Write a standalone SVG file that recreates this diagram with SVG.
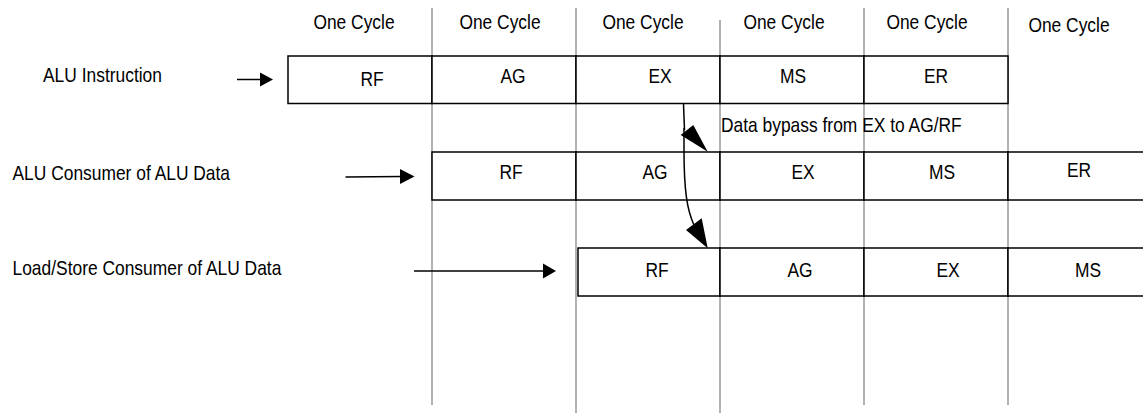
<svg xmlns="http://www.w3.org/2000/svg" width="1143" height="413" viewBox="0 0 1143 413">
<style>
.t{font-family:"Liberation Sans",Arial,sans-serif;font-size:17.4px;fill:#000}
.c{text-anchor:middle}
.box{fill:#fff;stroke:#000;stroke-width:1.5}
.grid{stroke:#999;stroke-width:1.5;fill:none}
.ln{stroke:#000;stroke-width:1.5;fill:none}
.hd{fill:#000;stroke:none}
</style>
<rect width="1143" height="413" fill="#fff"/>
<g id="gridlines">
<line class="grid" x1="432" y1="8" x2="432" y2="405"/>
<line class="grid" x1="576" y1="8" x2="576" y2="413"/>
<line class="grid" x1="720" y1="20" x2="720" y2="413"/>
<line class="grid" x1="864" y1="8" x2="864" y2="405"/>
<line class="grid" x1="1008" y1="8" x2="1008" y2="405"/>
</g>
<g id="headers">
<text class="t c" transform="translate(354,29) scale(1,1.12)">One Cycle</text>
<text class="t c" transform="translate(500,29) scale(1,1.12)">One Cycle</text>
<text class="t c" transform="translate(643,29) scale(1,1.12)">One Cycle</text>
<text class="t c" transform="translate(784,29) scale(1,1.12)">One Cycle</text>
<text class="t c" transform="translate(927,29) scale(1,1.12)">One Cycle</text>
<text class="t c" transform="translate(1069,32) scale(1,1.12)">One Cycle</text>
</g>
<g id="row-labels">
<text class="t" transform="translate(43,82) scale(1,1.12)">ALU Instruction</text>
<text class="t" transform="translate(12.5,180) scale(1,1.12)">ALU Consumer of ALU Data</text>
<text class="t" transform="translate(12.5,275) scale(1,1.12)">Load/Store Consumer of ALU Data</text>
</g>
<g id="row1">
<rect class="box" x="288" y="56" width="144" height="47.5"/>
<rect class="box" x="432" y="56" width="144" height="47.5"/>
<rect class="box" x="576" y="56" width="144" height="47.5"/>
<rect class="box" x="720" y="56" width="144" height="47.5"/>
<rect class="box" x="864" y="56" width="144" height="47.5"/>
<text class="t c" transform="translate(372,86) scale(1,1.12)">RF</text>
<text class="t c" transform="translate(513,83) scale(1,1.12)">AG</text>
<text class="t c" transform="translate(660,83) scale(1,1.12)">EX</text>
<text class="t c" transform="translate(793,83) scale(1,1.12)">MS</text>
<text class="t c" transform="translate(936,83) scale(1,1.12)">ER</text>
</g>
<g id="row2">
<rect class="box" x="432" y="152" width="144" height="48"/>
<rect class="box" x="576" y="152" width="144" height="48"/>
<rect class="box" x="720" y="152" width="144" height="48"/>
<rect class="box" x="864" y="152" width="144" height="48"/>
<rect class="box" x="1008" y="152" width="150" height="48"/>
<text class="t c" transform="translate(511,179) scale(1,1.12)">RF</text>
<text class="t c" transform="translate(655,179) scale(1,1.12)">AG</text>
<text class="t c" transform="translate(803,179) scale(1,1.12)">EX</text>
<text class="t c" transform="translate(942,179) scale(1,1.12)">MS</text>
<text class="t c" transform="translate(1079,177) scale(1,1.12)">ER</text>
</g>
<g id="row3">
<rect class="box" x="578" y="248" width="142" height="48"/>
<rect class="box" x="720" y="248" width="144" height="48"/>
<rect class="box" x="864" y="248" width="144" height="48"/>
<rect class="box" x="1008" y="248" width="150" height="48"/>
<text class="t c" transform="translate(657,277) scale(1,1.12)">RF</text>
<text class="t c" transform="translate(800,277) scale(1,1.12)">AG</text>
<text class="t c" transform="translate(948,277) scale(1,1.12)">EX</text>
<text class="t c" transform="translate(1088,277) scale(1,1.12)">MS</text>
</g>
<g id="bypass-label">
<text class="t" transform="translate(721,132) scale(1,1.12)">Data bypass from EX to AG/RF</text>
</g>
<g id="connectors">
<line class="ln" x1="237" y1="79.5" x2="262" y2="79.5"/>
<polygon class="hd" points="260,72.5 273,79.5 260,86.5"/>
<line class="ln" x1="345.5" y1="177" x2="402" y2="176.5"/>
<polygon class="hd" points="400,169 414.5,176.5 400,184"/>
<line class="ln" x1="414" y1="271" x2="545" y2="271"/>
<polygon class="hd" points="543,263.5 556,271 543,278.5"/>
<path class="ln" d="M683.5,104 L684.5,130"/>
<polygon class="hd" points="680.7,135 693.3,125 707.7,151.7"/>
<path class="ln" d="M684,128 L684,150 C684,190 687,210 694,225"/>
<polygon class="hd" points="686,230 701.7,218.3 707.7,248.3"/>
</g>
</svg>
